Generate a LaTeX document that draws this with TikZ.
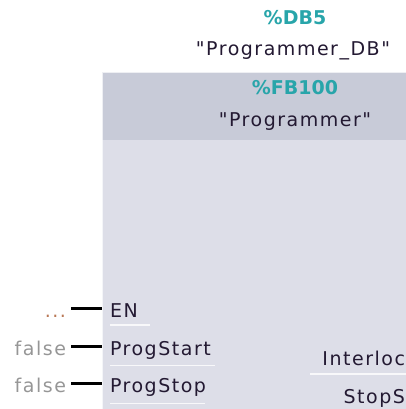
\documentclass[tikz,border=0pt]{standalone}
\usepackage{fontspec}
\newfontfamily\fbfont{DejaVu Sans}
\newfontfamily\fbwide{DejaVu Sans}[LetterSpace=8]
\definecolor{fbteal}{RGB}{40,165,170}
\definecolor{fbhead}{RGB}{200,203,216}
\definecolor{fbbody}{RGB}{221,222,232}
\definecolor{fbtext}{RGB}{35,25,50}
\definecolor{fbgrey}{RGB}{150,150,150}
\definecolor{fbdots}{RGB}{185,120,85}

\begin{document}
\begin{tikzpicture}[x=1pt,y=-1pt,inner sep=0pt,outer sep=0pt,
    inst name/.style={font=\fbfont\fontsize{19}{22}\selectfont\bfseries,text=fbteal},
    head text/.style={font=\fbwide\fontsize{19}{22}\selectfont,text=fbtext},
    pin name/.style={font=\fbwide\fontsize{19}{22}\selectfont,text=fbtext},
    pin value/.style={font=\fbwide\fontsize{19}{22}\selectfont,text=fbgrey,anchor=base east},
    pin line/.style={line width=3pt,black},
    pin under/.style={white,line width=1.5pt,opacity=0.8}]
    \useasboundingbox (0,0) rectangle (406,409);
    \clip (0,0) rectangle (406,409);

    % block body and header
    \fill[fbbody] (102,140) rectangle (420,420);
    \fill[fbhead] (102,72) rectangle (420,140);
    \draw[white,opacity=0.7,line width=1pt] (102.5,420) -- (102.5,72.5) -- (420,72.5);

    % instance and block names
    \node[inst name,anchor=base] (db) at (295,25) {\%DB5};
    \node[head text,anchor=base] (dbname) at (293,56) {"Programmer\_DB"};
    \node[inst name,anchor=base] (fb) at (295,95) {\%FB100};
    \node[head text,anchor=base] (fbname) at (295,126) {"Programmer"};

    % inputs
    \node[pin name,anchor=base west] (en) at (110,317) {EN};
    \node[pin name,anchor=base west] (start) at (110,355) {ProgStart};
    \node[pin name,anchor=base west] (stop) at (110,392) {ProgStop};
    \node[pin value,text=fbdots] (enval) at (66,317) {...};
    \node[pin value] (startval) at (66,355) {false};
    \node[pin value] (stopval) at (66,392) {false};
    \coordinate (enpin) at (102,308);
    \coordinate (startpin) at (102,346);
    \coordinate (stoppin) at (102,383);
    \draw[pin line] ([xshift=5pt]enval.east |- enpin) -- (enpin);
    \draw[pin line] ([xshift=5pt]startval.east |- startpin) -- (startpin);
    \draw[pin line] ([xshift=5pt]stopval.east |- stoppin) -- (stoppin);

    % outputs
    \node[pin name,anchor=base east] (ilock) at (405,365) {Interloc};
    \node[pin name,anchor=base east] (stops) at (405,403) {StopS};

    \draw[pin under] (110,325) -- (150,325);
    \draw[pin under] (110,365.5) -- (215,365.5);
    \draw[pin under] (110,403.5) -- (205,403.5);
    \draw[pin under] (310,374) -- (420,374);
\end{tikzpicture}
\end{document}
